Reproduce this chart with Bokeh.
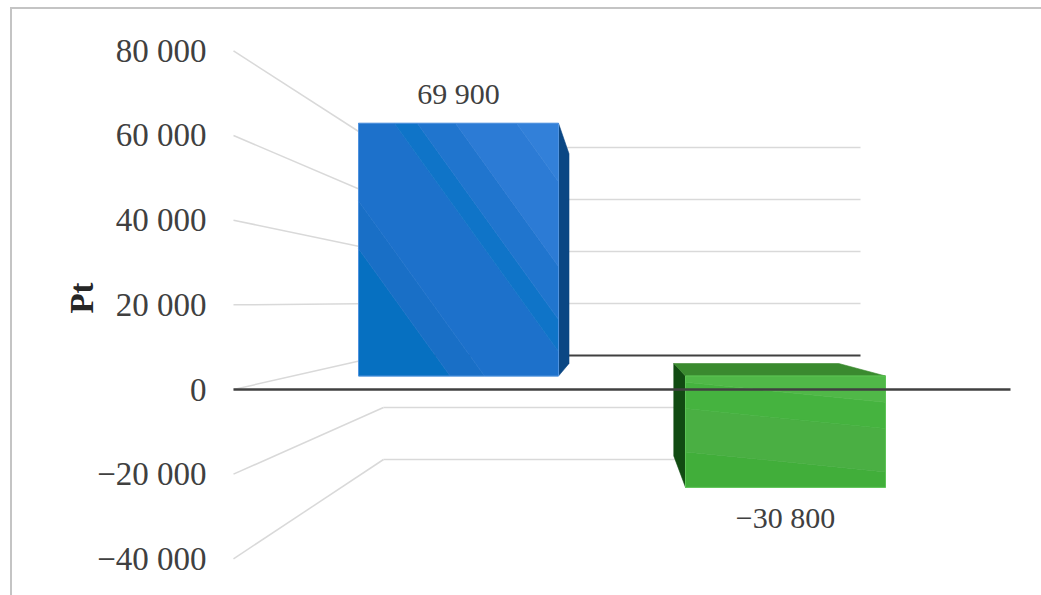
from bokeh.plotting import figure
from bokeh.models import Range1d, FixedTicker
from bokeh.core.properties import value
from bokeh.embed import file_html
from bokeh.resources import INLINE

# ---- data -------------------------------------------------------------
categories = ["Gain", "Loss"]
values = [69900, -30800]
tick_values = [-40000, -20000, 0, 20000, 40000, 60000, 80000]
axis_title = "Pt"


def fmt(v):
    s = f"{abs(int(v)):,}".replace(",", " ")
    return ("\u2212" if v < 0 else "") + s


# ---- canvas / projection constants ------------------------------------
W, H = 1041, 595
LEFT = 220                 # width of the axis panel
UNIT = 20000.0
Y0, PX = 389.0, 84.67      # front axis plane: zero row, pixels per UNIT

FRONT = (375.5, 72.3)      # bar front faces
BACK = (363.0, 60.0)       # bar back faces
WALL = (355.0, 52.0)       # back wall
VP_X, DEPTH_SCALE = 618.0, 0.825

AXIS_X0, WALL_X0, WALL_X1, AXIS_X1 = 233, 383, 860, 1010
FIRST_CENTER, SLOT, BAR_W = 458, 327, 200
LABEL_GAP = 30

FONT = "Liberation Serif"
TEXT = "#404040"
GRID = "#d9d9d9"
FRAME_LINE = "#c4c4c4"


def data_y(px):
    return (Y0 - px) * UNIT / PX


def plane_px(v, plane):
    zero, scale = plane
    return zero - v * scale / UNIT


def back_x(x):
    return VP_X + DEPTH_SCALE * (x - VP_X)


def clip_half(poly, a, b, c, keep_ge):
    out = []
    n = len(poly)
    for k in range(n):
        p1, p2 = poly[k], poly[(k + 1) % n]
        f1 = a * p1[0] + b * p1[1] - c
        f2 = a * p2[0] + b * p2[1] - c
        if not keep_ge:
            f1, f2 = -f1, -f2
        if f1 >= 0:
            out.append(p1)
        if (f1 >= 0) != (f2 >= 0):
            t = f1 / (f1 - f2)
            out.append((p1[0] + t * (p2[0] - p1[0]), p1[1] + t * (p2[1] - p1[1])))
    return out


# per-bar shading: direction of the sheen bands, band colours, side/cap colours
STYLES = [
    dict(dir=(1.0, -0.72),
         bands=[(0.00, 0.24, "#0670c1"), (0.24, 0.33, "#196fc6"),
                (0.33, 0.57, "#1d71cb"), (0.57, 0.63, "#0f74c8"),
                (0.63, 0.73, "#2075ce"), (0.73, 0.89, "#2c7bd5"),
                (0.89, 1.00, "#3280d9")],
         edge="#4f92de", side="#0b4784", cap="#0b4784"),
    dict(dir=(0.1, -1.0),
         bands=[(0.00, 0.27, "#41ae3a"), (0.27, 0.60, "#4aaf43"),
                (0.60, 0.80, "#45b33f"), (0.80, 1.00, "#50b848")],
         edge="#5cc455", side="#114b12", cap="#3a8a2f"),
]

p = figure(width=W, height=H, title=None,
           x_range=Range1d(LEFT, W), y_range=Range1d(data_y(H), data_y(0)),
           x_axis_type=None, output_backend="svg", toolbar_location=None,
           min_border_left=LEFT, min_border_right=0,
           min_border_top=0, min_border_bottom=0)
p.outline_line_color = None
p.grid.visible = False
p.background_fill_color = None
p.border_fill_color = None
# thin chart-area border along the top and left edges
p.styles = {
    "background": (
        f"linear-gradient({FRAME_LINE}, {FRAME_LINE}) 10px 7px / 100% 2px no-repeat, "
        f"linear-gradient({FRAME_LINE}, {FRAME_LINE}) 10px 7px / 2px 100% no-repeat, "
        "#ffffff"
    )
}

yax = p.yaxis[0]
yax.ticker = FixedTicker(ticks=tick_values)
yax.major_label_overrides = {t: fmt(t) for t in tick_values}
yax.axis_line_color = None
yax.major_tick_line_color = None
yax.minor_tick_line_color = None
yax.major_label_standoff = 8
yax.major_label_text_font = FONT
yax.major_label_text_font_size = "33px"
yax.major_label_text_color = TEXT
yax.axis_label = axis_title
yax.axis_label_text_font = FONT
yax.axis_label_text_font_size = "33px"
yax.axis_label_text_font_style = "bold"
yax.axis_label_text_color = "#262626"
yax.axis_label_standoff = -6

# ---- gridlines: from the axis back to the wall, then along the wall ----
side_xs, side_ys, wall_xs, wall_ys = [], [], [], []
for t in tick_values:
    wy = data_y(plane_px(t, WALL))
    side_xs.append([AXIS_X0, WALL_X0])
    side_ys.append([t, wy])
    if t != 0:
        wall_xs.append([WALL_X0, WALL_X1])
        wall_ys.append([wy, wy])
p.multi_line(side_xs, side_ys, line_color=GRID, line_width=1.5)
p.multi_line(wall_xs, wall_ys, line_color=GRID, line_width=1.5)
wz = data_y(plane_px(0, WALL))
p.line([WALL_X0, WALL_X1], [wz, wz], line_color="#404040", line_width=2)

# ---- bars -------------------------------------------------------------
label_x, label_y, label_text = [], [], []
for i, (cat, v) in enumerate(zip(categories, values)):
    st = STYLES[i]
    cx = FIRST_CENTER + i * SLOT
    xl, xr = cx - BAR_W / 2, cx + BAR_W / 2
    hi, lo = max(v, 0), min(v, 0)
    f_top, f_bot = plane_px(hi, FRONT), plane_px(lo, FRONT)
    b_top, b_bot = plane_px(hi, BACK), plane_px(lo, BACK)
    bxl, bxr = back_x(xl), back_x(xr)

    faces, colors = [], []
    if bxr > xr:
        faces.append([(xr, f_top), (bxr, b_top), (bxr, b_bot), (xr, f_bot)])
        colors.append(st["side"])
    if bxl < xl:
        faces.append([(xl, f_top), (bxl, b_top), (bxl, b_bot), (xl, f_bot)])
        colors.append(st["side"])
    if b_top < f_top:
        faces.append([(xl, f_top), (bxl, b_top), (bxr, b_top), (xr, f_top)])
        colors.append(st["cap"])
    if b_bot > f_bot:
        faces.append([(xl, f_bot), (bxl, b_bot), (bxr, b_bot), (xr, f_bot)])
        colors.append(st["cap"])

    # front face split into shaded bands
    front = [(xl, f_top), (xr, f_top), (xr, f_bot), (xl, f_bot)]
    ax_, ay_ = st["dir"]
    us = [ax_ * x + ay_ * y for x, y in front]
    umin, umax = min(us), max(us)
    for f0, f1, col in st["bands"]:
        c0 = umin + f0 * (umax - umin)
        c1 = umin + f1 * (umax - umin)
        poly = clip_half(clip_half(front, ax_, ay_, c0, True), ax_, ay_, c1, False)
        if len(poly) >= 3:
            faces.append(poly)
            colors.append(col)

    p.patches([[q[0] for q in f] for f in faces],
              [[data_y(q[1]) for q in f] for f in faces],
              fill_color=colors, line_color=colors, line_width=0.6)
    p.patch([q[0] for q in front], [data_y(q[1]) for q in front],
            fill_color=None, line_color=st["edge"], line_width=1)

    label_x.append(cx)
    label_y.append(data_y(f_top - LABEL_GAP) if v >= 0 else data_y(f_bot + LABEL_GAP))
    label_text.append(fmt(v))

# front zero line over everything
p.line([AXIS_X0, AXIS_X1], [0, 0], line_color="#404040", line_width=2.5)

p.text(label_x, label_y, text=label_text, text_font=value(FONT),
       text_font_size="30px", text_align="center", text_baseline="middle",
       text_color=TEXT)

open("out.html", "w").write(file_html(p, INLINE))
